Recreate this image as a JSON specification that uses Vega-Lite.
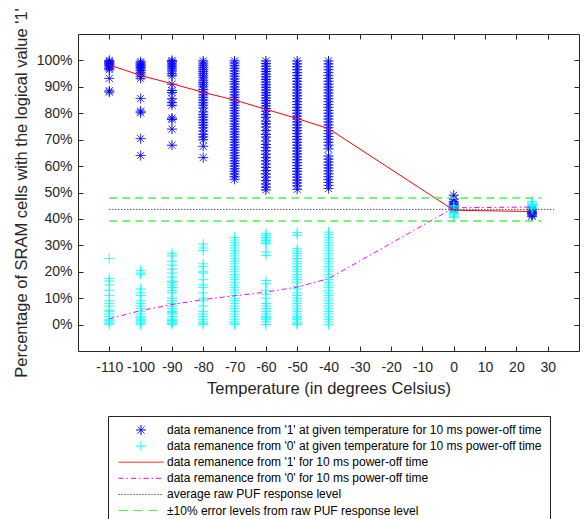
{
  "$schema": "https://vega.github.io/schema/vega-lite/v6.json",
  "autosize": {"type": "none"},
  "padding": {"left": 78, "top": 34, "right": 5, "bottom": 168},
  "width": 501,
  "height": 317,
  "background": "white",
  "config": {
    "view": {"stroke": "#262626", "strokeWidth": 1},
    "font": "Liberation Sans",
    "axis": {
      "grid": false, "domain": false, "tickSize": -5, "tickColor": "#262626",
      "labelColor": "#262626", "labelFontSize": 14, "labelFont": "Liberation Sans",
      "titleColor": "#262626", "titleFontSize": 16.5, "titleFont": "Liberation Sans", "titleFontWeight": "normal"
    },
    "legend": {
      "labelFontSize": 12, "labelFont": "Liberation Sans", "labelColor": "black",
      "symbolSize": 100, "symbolStrokeWidth": 1, "labelLimit": 500
    }
  },
  "datasets": {
    "pts": [
      {"t": -110, "v": 100, "s": "a"}, {"t": -110, "v": 99.6, "s": "a"}, {"t": -110, "v": 99.2, "s": "a"}, {"t": -110, "v": 98.8, "s": "a"}, {"t": -110, "v": 98.4, "s": "a"}, {"t": -110, "v": 98, "s": "a"}, {"t": -110, "v": 97.5, "s": "a"}, {"t": -110, "v": 97, "s": "a"}, {"t": -110, "v": 96.5, "s": "a"}, {"t": -110, "v": 93.2, "s": "a"}, {"t": -110, "v": 88.5, "s": "a"}, {"t": -110, "v": 88, "s": "a"},
      {"t": -100, "v": 99.5, "s": "a"}, {"t": -100, "v": 99, "s": "a"}, {"t": -100, "v": 98.6, "s": "a"}, {"t": -100, "v": 98.2, "s": "a"}, {"t": -100, "v": 97.8, "s": "a"}, {"t": -100, "v": 97.3, "s": "a"}, {"t": -100, "v": 96.8, "s": "a"}, {"t": -100, "v": 96.2, "s": "a"}, {"t": -100, "v": 95.5, "s": "a"}, {"t": -100, "v": 94.8, "s": "a"}, {"t": -100, "v": 94, "s": "a"}, {"t": -100, "v": 93.2, "s": "a"}, {"t": -100, "v": 85.6, "s": "a"}, {"t": -100, "v": 80.8, "s": "a"}, {"t": -100, "v": 80.2, "s": "a"}, {"t": -100, "v": 70.4, "s": "a"}, {"t": -100, "v": 64, "s": "a"},
      {"t": -90, "v": 100, "s": "a"}, {"t": -90, "v": 99.5, "s": "a"}, {"t": -90, "v": 99, "s": "a"}, {"t": -90, "v": 98.3, "s": "a"}, {"t": -90, "v": 97.6, "s": "a"}, {"t": -90, "v": 96.8, "s": "a"}, {"t": -90, "v": 96, "s": "a"}, {"t": -90, "v": 95, "s": "a"}, {"t": -90, "v": 94.2, "s": "a"}, {"t": -90, "v": 91, "s": "a"}, {"t": -90, "v": 88.6, "s": "a"}, {"t": -90, "v": 87.8, "s": "a"}, {"t": -90, "v": 85.5, "s": "a"}, {"t": -90, "v": 84, "s": "a"}, {"t": -90, "v": 83, "s": "a"}, {"t": -90, "v": 78.2, "s": "a"}, {"t": -90, "v": 77.6, "s": "a"}, {"t": -90, "v": 74, "s": "a"}, {"t": -90, "v": 67.9, "s": "a"},
      {"t": -80, "v": 99.8, "s": "a"}, {"t": -80, "v": 99, "s": "a"}, {"t": -80, "v": 98.2, "s": "a"}, {"t": -80, "v": 97.4, "s": "a"}, {"t": -80, "v": 96.6, "s": "a"}, {"t": -80, "v": 95.8, "s": "a"}, {"t": -80, "v": 95, "s": "a"}, {"t": -80, "v": 94.2, "s": "a"}, {"t": -80, "v": 93.4, "s": "a"}, {"t": -80, "v": 92.5, "s": "a"}, {"t": -80, "v": 91.6, "s": "a"}, {"t": -80, "v": 90.8, "s": "a"}, {"t": -80, "v": 90, "s": "a"}, {"t": -80, "v": 89, "s": "a"}, {"t": -80, "v": 88, "s": "a"}, {"t": -80, "v": 87, "s": "a"}, {"t": -80, "v": 86, "s": "a"}, {"t": -80, "v": 85, "s": "a"}, {"t": -80, "v": 84, "s": "a"}, {"t": -80, "v": 83, "s": "a"}, {"t": -80, "v": 82, "s": "a"}, {"t": -80, "v": 80.5, "s": "a"}, {"t": -80, "v": 79.5, "s": "a"}, {"t": -80, "v": 78.5, "s": "a"}, {"t": -80, "v": 77.5, "s": "a"}, {"t": -80, "v": 76.5, "s": "a"}, {"t": -80, "v": 75.5, "s": "a"}, {"t": -80, "v": 74.5, "s": "a"}, {"t": -80, "v": 73.3, "s": "a"}, {"t": -80, "v": 72, "s": "a"}, {"t": -80, "v": 71, "s": "a"}, {"t": -80, "v": 70, "s": "a"}, {"t": -80, "v": 67.5, "s": "a"}, {"t": -80, "v": 63.2, "s": "a"},
      {"t": -70, "v": 99.8, "s": "a"}, {"t": -70, "v": 99, "s": "a"}, {"t": -70, "v": 98, "s": "a"}, {"t": -70, "v": 97, "s": "a"}, {"t": -70, "v": 96, "s": "a"}, {"t": -70, "v": 95, "s": "a"}, {"t": -70, "v": 94, "s": "a"}, {"t": -70, "v": 93, "s": "a"}, {"t": -70, "v": 92, "s": "a"}, {"t": -70, "v": 91, "s": "a"}, {"t": -70, "v": 90, "s": "a"}, {"t": -70, "v": 89, "s": "a"}, {"t": -70, "v": 88, "s": "a"}, {"t": -70, "v": 87, "s": "a"}, {"t": -70, "v": 86, "s": "a"}, {"t": -70, "v": 85, "s": "a"}, {"t": -70, "v": 84, "s": "a"}, {"t": -70, "v": 83, "s": "a"}, {"t": -70, "v": 82, "s": "a"}, {"t": -70, "v": 81, "s": "a"}, {"t": -70, "v": 80, "s": "a"}, {"t": -70, "v": 79, "s": "a"}, {"t": -70, "v": 78, "s": "a"}, {"t": -70, "v": 77, "s": "a"}, {"t": -70, "v": 76, "s": "a"}, {"t": -70, "v": 75, "s": "a"}, {"t": -70, "v": 74, "s": "a"}, {"t": -70, "v": 73, "s": "a"}, {"t": -70, "v": 72, "s": "a"}, {"t": -70, "v": 71, "s": "a"}, {"t": -70, "v": 70, "s": "a"}, {"t": -70, "v": 69, "s": "a"}, {"t": -70, "v": 68, "s": "a"}, {"t": -70, "v": 67, "s": "a"}, {"t": -70, "v": 66, "s": "a"}, {"t": -70, "v": 65, "s": "a"}, {"t": -70, "v": 64, "s": "a"}, {"t": -70, "v": 63, "s": "a"}, {"t": -70, "v": 62, "s": "a"}, {"t": -70, "v": 61, "s": "a"}, {"t": -70, "v": 60, "s": "a"}, {"t": -70, "v": 59, "s": "a"}, {"t": -70, "v": 58, "s": "a"}, {"t": -70, "v": 57, "s": "a"}, {"t": -70, "v": 56, "s": "a"}, {"t": -70, "v": 55, "s": "a"},
      {"t": -60, "v": 99.8, "s": "a"}, {"t": -60, "v": 98.8, "s": "a"}, {"t": -60, "v": 97.8, "s": "a"}, {"t": -60, "v": 96.8, "s": "a"}, {"t": -60, "v": 95.8, "s": "a"}, {"t": -60, "v": 94.8, "s": "a"}, {"t": -60, "v": 93.8, "s": "a"}, {"t": -60, "v": 92.8, "s": "a"}, {"t": -60, "v": 91.8, "s": "a"}, {"t": -60, "v": 90.8, "s": "a"}, {"t": -60, "v": 89.8, "s": "a"}, {"t": -60, "v": 88.8, "s": "a"}, {"t": -60, "v": 87.8, "s": "a"}, {"t": -60, "v": 86.8, "s": "a"}, {"t": -60, "v": 85.8, "s": "a"}, {"t": -60, "v": 84.8, "s": "a"}, {"t": -60, "v": 83.8, "s": "a"}, {"t": -60, "v": 82.8, "s": "a"}, {"t": -60, "v": 81.8, "s": "a"}, {"t": -60, "v": 80.8, "s": "a"}, {"t": -60, "v": 79.5, "s": "a"}, {"t": -60, "v": 78.5, "s": "a"}, {"t": -60, "v": 77, "s": "a"}, {"t": -60, "v": 76, "s": "a"}, {"t": -60, "v": 74.8, "s": "a"}, {"t": -60, "v": 73.5, "s": "a"}, {"t": -60, "v": 72, "s": "a"}, {"t": -60, "v": 71, "s": "a"}, {"t": -60, "v": 69.5, "s": "a"}, {"t": -60, "v": 68.2, "s": "a"}, {"t": -60, "v": 67, "s": "a"}, {"t": -60, "v": 65.8, "s": "a"}, {"t": -60, "v": 64.5, "s": "a"}, {"t": -60, "v": 63.2, "s": "a"}, {"t": -60, "v": 62, "s": "a"}, {"t": -60, "v": 60.8, "s": "a"}, {"t": -60, "v": 59.5, "s": "a"}, {"t": -60, "v": 58.3, "s": "a"}, {"t": -60, "v": 57, "s": "a"}, {"t": -60, "v": 55.8, "s": "a"}, {"t": -60, "v": 54.5, "s": "a"}, {"t": -60, "v": 53.2, "s": "a"}, {"t": -60, "v": 52, "s": "a"}, {"t": -60, "v": 51, "s": "a"},
      {"t": -50, "v": 99.8, "s": "a"}, {"t": -50, "v": 98.7, "s": "a"}, {"t": -50, "v": 97.6, "s": "a"}, {"t": -50, "v": 96.5, "s": "a"}, {"t": -50, "v": 95.4, "s": "a"}, {"t": -50, "v": 94.3, "s": "a"}, {"t": -50, "v": 93.2, "s": "a"}, {"t": -50, "v": 92.1, "s": "a"}, {"t": -50, "v": 91, "s": "a"}, {"t": -50, "v": 89.9, "s": "a"}, {"t": -50, "v": 88.8, "s": "a"}, {"t": -50, "v": 87.7, "s": "a"}, {"t": -50, "v": 86.6, "s": "a"}, {"t": -50, "v": 85.5, "s": "a"}, {"t": -50, "v": 84.4, "s": "a"}, {"t": -50, "v": 83.3, "s": "a"}, {"t": -50, "v": 82.2, "s": "a"}, {"t": -50, "v": 81.1, "s": "a"}, {"t": -50, "v": 80, "s": "a"}, {"t": -50, "v": 78.9, "s": "a"}, {"t": -50, "v": 77.8, "s": "a"}, {"t": -50, "v": 76.7, "s": "a"}, {"t": -50, "v": 75.6, "s": "a"}, {"t": -50, "v": 74.5, "s": "a"}, {"t": -50, "v": 73.4, "s": "a"}, {"t": -50, "v": 72.3, "s": "a"}, {"t": -50, "v": 71.2, "s": "a"}, {"t": -50, "v": 70.1, "s": "a"}, {"t": -50, "v": 69, "s": "a"}, {"t": -50, "v": 67.9, "s": "a"}, {"t": -50, "v": 66.8, "s": "a"}, {"t": -50, "v": 65.7, "s": "a"}, {"t": -50, "v": 64.6, "s": "a"}, {"t": -50, "v": 63.5, "s": "a"}, {"t": -50, "v": 62.4, "s": "a"}, {"t": -50, "v": 61.3, "s": "a"}, {"t": -50, "v": 60.2, "s": "a"}, {"t": -50, "v": 59.1, "s": "a"}, {"t": -50, "v": 58, "s": "a"}, {"t": -50, "v": 56.9, "s": "a"}, {"t": -50, "v": 55.8, "s": "a"}, {"t": -50, "v": 54.7, "s": "a"}, {"t": -50, "v": 53.6, "s": "a"}, {"t": -50, "v": 52.5, "s": "a"}, {"t": -50, "v": 51.2, "s": "a"},
      {"t": -40, "v": 99.8, "s": "a"}, {"t": -40, "v": 98.7, "s": "a"}, {"t": -40, "v": 97.6, "s": "a"}, {"t": -40, "v": 96.5, "s": "a"}, {"t": -40, "v": 95.4, "s": "a"}, {"t": -40, "v": 94.3, "s": "a"}, {"t": -40, "v": 93.2, "s": "a"}, {"t": -40, "v": 92.1, "s": "a"}, {"t": -40, "v": 91, "s": "a"}, {"t": -40, "v": 89.9, "s": "a"}, {"t": -40, "v": 88.8, "s": "a"}, {"t": -40, "v": 87.7, "s": "a"}, {"t": -40, "v": 86.6, "s": "a"}, {"t": -40, "v": 85.5, "s": "a"}, {"t": -40, "v": 84.4, "s": "a"}, {"t": -40, "v": 83.3, "s": "a"}, {"t": -40, "v": 82.2, "s": "a"}, {"t": -40, "v": 81.1, "s": "a"}, {"t": -40, "v": 80, "s": "a"}, {"t": -40, "v": 78.9, "s": "a"}, {"t": -40, "v": 77.8, "s": "a"}, {"t": -40, "v": 76.7, "s": "a"}, {"t": -40, "v": 75.6, "s": "a"}, {"t": -40, "v": 74.5, "s": "a"}, {"t": -40, "v": 73.4, "s": "a"}, {"t": -40, "v": 72.3, "s": "a"}, {"t": -40, "v": 71.2, "s": "a"}, {"t": -40, "v": 70.1, "s": "a"}, {"t": -40, "v": 69, "s": "a"}, {"t": -40, "v": 67.9, "s": "a"}, {"t": -40, "v": 66.5, "s": "a"}, {"t": -40, "v": 63.8, "s": "a"}, {"t": -40, "v": 62.6, "s": "a"}, {"t": -40, "v": 61.5, "s": "a"}, {"t": -40, "v": 60.4, "s": "a"}, {"t": -40, "v": 59.3, "s": "a"}, {"t": -40, "v": 58.2, "s": "a"}, {"t": -40, "v": 57.1, "s": "a"}, {"t": -40, "v": 56, "s": "a"}, {"t": -40, "v": 54.9, "s": "a"}, {"t": -40, "v": 53.8, "s": "a"}, {"t": -40, "v": 52.7, "s": "a"}, {"t": -40, "v": 51.5, "s": "a"},
      {"t": 0, "v": 49, "s": "a"}, {"t": 0, "v": 47.5, "s": "a"}, {"t": 0, "v": 46.5, "s": "a"}, {"t": 0, "v": 46, "s": "a"}, {"t": 0, "v": 45.5, "s": "a"}, {"t": 0, "v": 45, "s": "a"}, {"t": 0, "v": 44.5, "s": "a"}, {"t": 0, "v": 44, "s": "a"}, {"t": 0, "v": 43.5, "s": "a"},
      {"t": 25, "v": 44, "s": "a"}, {"t": 25, "v": 43.5, "s": "a"}, {"t": 25, "v": 43, "s": "a"}, {"t": 25, "v": 42.5, "s": "a"}, {"t": 25, "v": 42, "s": "a"}, {"t": 25, "v": 41.5, "s": "a"}, {"t": 25, "v": 41, "s": "a"},
      {"t": -110, "v": 25, "s": "b"}, {"t": -110, "v": 17.5, "s": "b"}, {"t": -110, "v": 16.5, "s": "b"}, {"t": -110, "v": 15, "s": "b"}, {"t": -110, "v": 13, "s": "b"}, {"t": -110, "v": 11, "s": "b"}, {"t": -110, "v": 9, "s": "b"}, {"t": -110, "v": 8, "s": "b"}, {"t": -110, "v": 7, "s": "b"}, {"t": -110, "v": 5.5, "s": "b"}, {"t": -110, "v": 5, "s": "b"}, {"t": -110, "v": 4, "s": "b"}, {"t": -110, "v": 3, "s": "b"}, {"t": -110, "v": 2, "s": "b"}, {"t": -110, "v": 1.5, "s": "b"}, {"t": -110, "v": 1, "s": "b"}, {"t": -110, "v": 0.5, "s": "b"}, {"t": -110, "v": 0, "s": "b"},
      {"t": -100, "v": 20.5, "s": "b"}, {"t": -100, "v": 19.5, "s": "b"}, {"t": -100, "v": 19, "s": "b"}, {"t": -100, "v": 13.5, "s": "b"}, {"t": -100, "v": 12, "s": "b"}, {"t": -100, "v": 11, "s": "b"}, {"t": -100, "v": 9, "s": "b"}, {"t": -100, "v": 8, "s": "b"}, {"t": -100, "v": 7, "s": "b"}, {"t": -100, "v": 6, "s": "b"}, {"t": -100, "v": 5, "s": "b"}, {"t": -100, "v": 4, "s": "b"}, {"t": -100, "v": 3, "s": "b"}, {"t": -100, "v": 2.5, "s": "b"}, {"t": -100, "v": 2, "s": "b"}, {"t": -100, "v": 1.5, "s": "b"}, {"t": -100, "v": 1, "s": "b"}, {"t": -100, "v": 0.5, "s": "b"}, {"t": -100, "v": 0, "s": "b"},
      {"t": -90, "v": 27, "s": "b"}, {"t": -90, "v": 26, "s": "b"}, {"t": -90, "v": 24, "s": "b"}, {"t": -90, "v": 22.5, "s": "b"}, {"t": -90, "v": 21, "s": "b"}, {"t": -90, "v": 19.5, "s": "b"}, {"t": -90, "v": 18, "s": "b"}, {"t": -90, "v": 16.5, "s": "b"}, {"t": -90, "v": 16, "s": "b"}, {"t": -90, "v": 15, "s": "b"}, {"t": -90, "v": 14, "s": "b"}, {"t": -90, "v": 13, "s": "b"}, {"t": -90, "v": 12, "s": "b"}, {"t": -90, "v": 10, "s": "b"}, {"t": -90, "v": 9, "s": "b"}, {"t": -90, "v": 8, "s": "b"}, {"t": -90, "v": 7, "s": "b"}, {"t": -90, "v": 6, "s": "b"}, {"t": -90, "v": 5, "s": "b"}, {"t": -90, "v": 4.5, "s": "b"}, {"t": -90, "v": 4, "s": "b"}, {"t": -90, "v": 3, "s": "b"}, {"t": -90, "v": 2, "s": "b"}, {"t": -90, "v": 1.5, "s": "b"}, {"t": -90, "v": 1, "s": "b"}, {"t": -90, "v": 0.5, "s": "b"}, {"t": -90, "v": 0, "s": "b"},
      {"t": -80, "v": 30.5, "s": "b"}, {"t": -80, "v": 29, "s": "b"}, {"t": -80, "v": 28, "s": "b"}, {"t": -80, "v": 23, "s": "b"}, {"t": -80, "v": 22, "s": "b"}, {"t": -80, "v": 20, "s": "b"}, {"t": -80, "v": 19.5, "s": "b"}, {"t": -80, "v": 17, "s": "b"}, {"t": -80, "v": 15, "s": "b"}, {"t": -80, "v": 14, "s": "b"}, {"t": -80, "v": 12, "s": "b"}, {"t": -80, "v": 10, "s": "b"}, {"t": -80, "v": 9, "s": "b"}, {"t": -80, "v": 7, "s": "b"}, {"t": -80, "v": 5, "s": "b"}, {"t": -80, "v": 4, "s": "b"}, {"t": -80, "v": 3, "s": "b"}, {"t": -80, "v": 2, "s": "b"}, {"t": -80, "v": 1, "s": "b"}, {"t": -80, "v": 0.5, "s": "b"}, {"t": -80, "v": 0, "s": "b"},
      {"t": -70, "v": 33, "s": "b"}, {"t": -70, "v": 32, "s": "b"}, {"t": -70, "v": 31, "s": "b"}, {"t": -70, "v": 30, "s": "b"}, {"t": -70, "v": 29, "s": "b"}, {"t": -70, "v": 28, "s": "b"}, {"t": -70, "v": 27, "s": "b"}, {"t": -70, "v": 26, "s": "b"}, {"t": -70, "v": 25, "s": "b"}, {"t": -70, "v": 24, "s": "b"}, {"t": -70, "v": 23, "s": "b"}, {"t": -70, "v": 22, "s": "b"}, {"t": -70, "v": 21, "s": "b"}, {"t": -70, "v": 20, "s": "b"}, {"t": -70, "v": 19, "s": "b"}, {"t": -70, "v": 18, "s": "b"}, {"t": -70, "v": 17, "s": "b"}, {"t": -70, "v": 16, "s": "b"}, {"t": -70, "v": 15, "s": "b"}, {"t": -70, "v": 14, "s": "b"}, {"t": -70, "v": 13, "s": "b"}, {"t": -70, "v": 12, "s": "b"}, {"t": -70, "v": 11, "s": "b"}, {"t": -70, "v": 10, "s": "b"}, {"t": -70, "v": 9, "s": "b"}, {"t": -70, "v": 8, "s": "b"}, {"t": -70, "v": 7, "s": "b"}, {"t": -70, "v": 6, "s": "b"}, {"t": -70, "v": 5, "s": "b"}, {"t": -70, "v": 4, "s": "b"}, {"t": -70, "v": 3, "s": "b"}, {"t": -70, "v": 2, "s": "b"}, {"t": -70, "v": 1, "s": "b"}, {"t": -70, "v": 0.5, "s": "b"}, {"t": -70, "v": 0, "s": "b"},
      {"t": -60, "v": 34.4, "s": "b"}, {"t": -60, "v": 33.8, "s": "b"}, {"t": -60, "v": 33, "s": "b"}, {"t": -60, "v": 32.4, "s": "b"}, {"t": -60, "v": 31.8, "s": "b"}, {"t": -60, "v": 31.2, "s": "b"}, {"t": -60, "v": 30.6, "s": "b"}, {"t": -60, "v": 27.5, "s": "b"}, {"t": -60, "v": 26.2, "s": "b"}, {"t": -60, "v": 16.7, "s": "b"}, {"t": -60, "v": 15.4, "s": "b"}, {"t": -60, "v": 13, "s": "b"}, {"t": -60, "v": 11.5, "s": "b"}, {"t": -60, "v": 10, "s": "b"}, {"t": -60, "v": 8, "s": "b"}, {"t": -60, "v": 7, "s": "b"}, {"t": -60, "v": 6, "s": "b"}, {"t": -60, "v": 5, "s": "b"}, {"t": -60, "v": 4, "s": "b"}, {"t": -60, "v": 3, "s": "b"}, {"t": -60, "v": 2.5, "s": "b"}, {"t": -60, "v": 2, "s": "b"}, {"t": -60, "v": 1, "s": "b"}, {"t": -60, "v": 0, "s": "b"},
      {"t": -50, "v": 34.8, "s": "b"}, {"t": -50, "v": 33.8, "s": "b"}, {"t": -50, "v": 28.7, "s": "b"}, {"t": -50, "v": 27.8, "s": "b"}, {"t": -50, "v": 27, "s": "b"}, {"t": -50, "v": 26, "s": "b"}, {"t": -50, "v": 25, "s": "b"}, {"t": -50, "v": 24, "s": "b"}, {"t": -50, "v": 23, "s": "b"}, {"t": -50, "v": 22, "s": "b"}, {"t": -50, "v": 21, "s": "b"}, {"t": -50, "v": 20, "s": "b"}, {"t": -50, "v": 19, "s": "b"}, {"t": -50, "v": 18, "s": "b"}, {"t": -50, "v": 17, "s": "b"}, {"t": -50, "v": 16, "s": "b"}, {"t": -50, "v": 14.5, "s": "b"}, {"t": -50, "v": 13.5, "s": "b"}, {"t": -50, "v": 12, "s": "b"}, {"t": -50, "v": 11, "s": "b"}, {"t": -50, "v": 10, "s": "b"}, {"t": -50, "v": 9, "s": "b"}, {"t": -50, "v": 8, "s": "b"}, {"t": -50, "v": 7, "s": "b"}, {"t": -50, "v": 6, "s": "b"}, {"t": -50, "v": 5, "s": "b"}, {"t": -50, "v": 4, "s": "b"}, {"t": -50, "v": 3, "s": "b"}, {"t": -50, "v": 2.5, "s": "b"}, {"t": -50, "v": 2, "s": "b"}, {"t": -50, "v": 1, "s": "b"}, {"t": -50, "v": 0.5, "s": "b"}, {"t": -50, "v": 0, "s": "b"},
      {"t": -40, "v": 35, "s": "b"}, {"t": -40, "v": 34, "s": "b"}, {"t": -40, "v": 33, "s": "b"}, {"t": -40, "v": 32, "s": "b"}, {"t": -40, "v": 31, "s": "b"}, {"t": -40, "v": 30, "s": "b"}, {"t": -40, "v": 29, "s": "b"}, {"t": -40, "v": 28, "s": "b"}, {"t": -40, "v": 27, "s": "b"}, {"t": -40, "v": 26, "s": "b"}, {"t": -40, "v": 25, "s": "b"}, {"t": -40, "v": 24, "s": "b"}, {"t": -40, "v": 23, "s": "b"}, {"t": -40, "v": 22, "s": "b"}, {"t": -40, "v": 21, "s": "b"}, {"t": -40, "v": 20, "s": "b"}, {"t": -40, "v": 19, "s": "b"}, {"t": -40, "v": 18, "s": "b"}, {"t": -40, "v": 17, "s": "b"}, {"t": -40, "v": 16, "s": "b"}, {"t": -40, "v": 15, "s": "b"}, {"t": -40, "v": 14, "s": "b"}, {"t": -40, "v": 13, "s": "b"}, {"t": -40, "v": 12, "s": "b"}, {"t": -40, "v": 11, "s": "b"}, {"t": -40, "v": 10, "s": "b"}, {"t": -40, "v": 9, "s": "b"}, {"t": -40, "v": 8, "s": "b"}, {"t": -40, "v": 7, "s": "b"}, {"t": -40, "v": 6, "s": "b"}, {"t": -40, "v": 5, "s": "b"}, {"t": -40, "v": 4, "s": "b"}, {"t": -40, "v": 3, "s": "b"}, {"t": -40, "v": 2, "s": "b"}, {"t": -40, "v": 1, "s": "b"}, {"t": -40, "v": 0, "s": "b"},
      {"t": 0, "v": 45, "s": "b"}, {"t": 0, "v": 44.5, "s": "b"}, {"t": 0, "v": 44, "s": "b"}, {"t": 0, "v": 43.5, "s": "b"}, {"t": 0, "v": 43, "s": "b"}, {"t": 0, "v": 42.5, "s": "b"}, {"t": 0, "v": 42, "s": "b"}, {"t": 0, "v": 41.5, "s": "b"}, {"t": 0, "v": 41, "s": "b"}, {"t": 0, "v": 40.5, "s": "b"},
      {"t": 25, "v": 46.5, "s": "b"}, {"t": 25, "v": 46, "s": "b"}, {"t": 25, "v": 45.5, "s": "b"}, {"t": 25, "v": 45, "s": "b"}, {"t": 25, "v": 44.5, "s": "b"}, {"t": 25, "v": 44, "s": "b"}, {"t": 25, "v": 43.5, "s": "b"}
    ],
    "lines": [
      {"t": -110, "v": 98.3, "s": "c"}, {"t": -100, "v": 94.3, "s": "c"}, {"t": -90, "v": 91.2, "s": "c"}, {"t": -80, "v": 87.9, "s": "c"}, {"t": -70, "v": 85, "s": "c"}, {"t": -60, "v": 81.5, "s": "c"}, {"t": -50, "v": 78, "s": "c"}, {"t": -40, "v": 74.2, "s": "c"}, {"t": 0, "v": 43.3, "s": "c"}, {"t": 25, "v": 42.8, "s": "c"},
      {"t": -110, "v": 2.2, "s": "d"}, {"t": -100, "v": 5.3, "s": "d"}, {"t": -90, "v": 7.6, "s": "d"}, {"t": -80, "v": 9.5, "s": "d"}, {"t": -70, "v": 10.9, "s": "d"}, {"t": -60, "v": 12.3, "s": "d"}, {"t": -50, "v": 14.2, "s": "d"}, {"t": -40, "v": 17.4, "s": "d"}, {"t": 0, "v": 44.2, "s": "d"}, {"t": 25, "v": 44.5, "s": "d"}
    ],
    "levels": [
      {"x1": -110, "x2": 32, "y": 43.6, "s": "e"},
      {"x1": -110, "x2": 28, "y": 47.96, "s": "f"},
      {"x1": -110, "x2": 28, "y": 39.24, "s": "f"}
    ]
  },
  "resolve": {"axis": {"x": "independent", "y": "independent"}},
  "layer": [
    {
      "data": {"name": "pts"},
      "transform": [{"filter": "datum.s == 'a'"}],
      "mark": {"type": "point", "filled": false, "size": 100, "strokeWidth": 1, "opacity": 1},
      "encoding": {
        "x": {"field": "t", "type": "quantitative", "scale": {"domain": [-120, 40], "nice": false},
          "axis": {"orient": "bottom", "values": [-110, -100, -90, -80, -70, -60, -50, -40, -30, -20, -10, 0, 10, 20, 30], "labelExpr": "'' + datum.value", "labelPadding": 14, "title": "Temperature (in degrees Celsius)", "titlePadding": 6, "labelFlush": false, "labelOverlap": false}},
        "y": {"field": "v", "type": "quantitative", "scale": {"domain": [-10, 110], "nice": false},
          "axis": {"orient": "left", "values": [0, 10, 20, 30, 40, 50, 60, 70, 80, 90, 100], "labelExpr": "datum.value + '%'", "labelPadding": 11, "title": "Percentage of SRAM cells with the logical value '1'", "titlePadding": 7, "labelFlush": false}},
        "color": {"field": "s", "type": "nominal", "title": null,
          "scale": {"domain": ["a", "b", "c", "d", "e", "f"], "range": ["#0000ff", "#00ffff", "#ff0000", "#ff00ff", "#000000", "#4ef04e"]},
          "legend": {"orient": "none", "legendX": 30, "legendY": 382, "padding": 8, "strokeColor": "#262626", "fillColor": "white", "gridAlign": "all", "rowPadding": 2.1, "symbolOffset": 19, "labelOffset": 20,
            "labelExpr": "datum.value == 'a' ? \"data remanence from '1' at given temperature for 10 ms power-off time\" : datum.value == 'b' ? \"data remanence from '0' at given temperature for 10 ms power-off time\" : datum.value == 'c' ? \"data remanence from '1' for 10 ms power-off time\" : datum.value == 'd' ? \"data remanence from '0' for 10 ms power-off time\" : datum.value == 'e' ? 'average raw PUF response level' : '±10% error levels from raw PUF response level'"}},
        "shape": {"field": "s", "type": "nominal", "title": null,
          "scale": {"domain": ["a", "b", "c", "d", "e", "f"], "range": ["M-1,0L1,0M0,-1L0,1M-0.7,-0.7L0.7,0.7M-0.7,0.7L0.7,-0.7", "M-1,0L1,0M0,-1L0,1", "M-4.5,0L4.5,0", "M-4.5,0L4.5,0", "M-4.5,0L4.5,0", "M-4.5,0L4.5,0"]}},
        "strokeDash": {"field": "s", "type": "nominal", "title": null,
          "scale": {"domain": ["a", "b", "c", "d", "e", "f"], "range": [[1, 0], [1, 0], [1, 0], [5, 3, 1.5, 3], [1, 2], [9, 6]]}}
      }
    },
    {
      "data": {"name": "pts"},
      "transform": [{"filter": "datum.s == 'b'"}],
      "mark": {"type": "point", "filled": false, "size": 100, "strokeWidth": 1, "opacity": 1},
      "encoding": {
        "x": {"field": "t", "type": "quantitative", "axis": null},
        "y": {"field": "v", "type": "quantitative", "axis": null},
        "color": {"field": "s", "type": "nominal", "title": null},
        "shape": {"field": "s", "type": "nominal", "title": null},
        "strokeDash": {"field": "s", "type": "nominal", "title": null}
      }
    },
    {
      "data": {"name": "lines"},
      "transform": [{"filter": "datum.s == 'c'"}],
      "mark": {"type": "line", "color": "#ff0000", "strokeWidth": 1},
      "encoding": {
        "x": {"field": "t", "type": "quantitative", "axis": null},
        "y": {"field": "v", "type": "quantitative", "axis": null}
      }
    },
    {
      "data": {"name": "lines"},
      "transform": [{"filter": "datum.s == 'd'"}],
      "mark": {"type": "line", "color": "#ff00ff", "strokeWidth": 1, "strokeDash": [5, 3, 1.5, 3]},
      "encoding": {
        "x": {"field": "t", "type": "quantitative", "axis": null},
        "y": {"field": "v", "type": "quantitative", "axis": null}
      }
    },
    {
      "data": {"name": "levels"},
      "transform": [{"filter": "datum.s == 'e'"}],
      "mark": {"type": "rule", "color": "#000000", "strokeWidth": 1, "strokeDash": [1, 2]},
      "encoding": {
        "x": {"field": "x1", "type": "quantitative", "axis": null},
        "x2": {"field": "x2"},
        "y": {"field": "y", "type": "quantitative", "axis": null}
      }
    },
    {
      "data": {"name": "levels"},
      "transform": [{"filter": "datum.s == 'f'"}],
      "mark": {"type": "rule", "color": "#4ef04e", "strokeWidth": 1.5, "strokeDash": [8, 5]},
      "encoding": {
        "x": {"field": "x1", "type": "quantitative",
          "axis": {"orient": "top", "values": [-110, -100, -90, -80, -70, -60, -50, -40, -30, -20, -10, 0, 10, 20, 30], "labels": false, "title": null}},
        "x2": {"field": "x2"},
        "y": {"field": "y", "type": "quantitative",
          "axis": {"orient": "right", "values": [0, 10, 20, 30, 40, 50, 60, 70, 80, 90, 100], "labels": false, "title": null}}
      }
    }
  ]
}
